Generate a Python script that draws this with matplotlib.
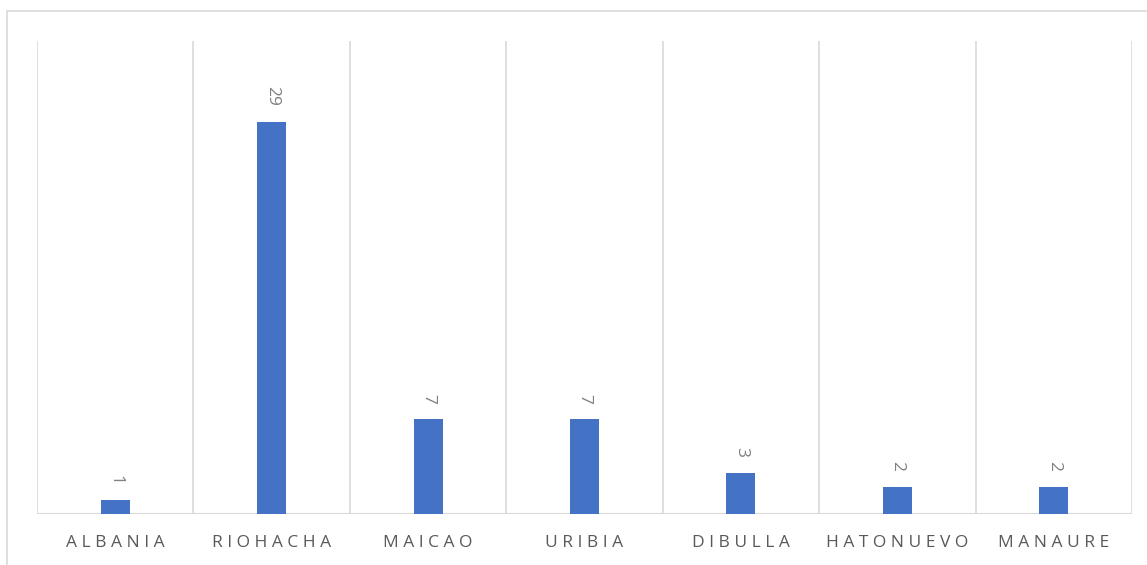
import matplotlib
matplotlib.use("Agg")
import matplotlib.pyplot as plt
from matplotlib.patches import Rectangle
import numpy as np

municipios = ["ALBANIA", "RIOHACHA", "MAICAO", "URIBIA", "DIBULLA", "HATONUEVO", "MANAURE"]
casos = [1, 29, 7, 7, 3, 2, 2]

plt.rcParams['font.family'] = ['Open Sans', 'DejaVu Sans']

fig = plt.figure(figsize=(11.47, 5.65), dpi=100)
ax = fig.add_axes([37 / 1147, 51 / 565, 1095 / 1147, 473 / 565])

x = np.arange(len(municipios))
bars = ax.bar(x, casos, width=0.185, color="#4472c4", zorder=3)

# etiquetas de valor, giradas
for b, v in zip(bars, casos):
    ax.annotate(str(v), (b.get_x() + b.get_width() / 2, b.get_height()),
                xytext=(0, 11.5), textcoords="offset points",
                ha="center", va="bottom", rotation=270,
                fontsize=12.5, color="#7f7f7f")

ax.set_xlim(-0.5, len(municipios) - 0.5)
ax.set_ylim(0, 35)

# lineas verticales entre categorias
for g in np.arange(-0.5, len(municipios), 1.0):
    ax.axvline(g, color="#d9d9d9", lw=1.2, zorder=1)
ax.axhline(0, color="#d9d9d9", lw=1.5, zorder=2)

for s in ax.spines.values():
    s.set_visible(False)
ax.set_yticks([])
ax.set_xticks(x)
ax.set_xticklabels([" ".join(m) for m in municipios], fontsize=12.5, color="#595959")
ax.tick_params(axis="x", length=0, pad=15)

# borde del grafico
fig.patches.append(Rectangle((7 / 1147, -0.05), 1.1, (565 - 11) / 565 + 0.05,
                             transform=fig.transFigure, fill=False,
                             edgecolor="#d9d9d9", lw=1.2, clip_on=False))

fig.savefig("out.png", dpi=100)
